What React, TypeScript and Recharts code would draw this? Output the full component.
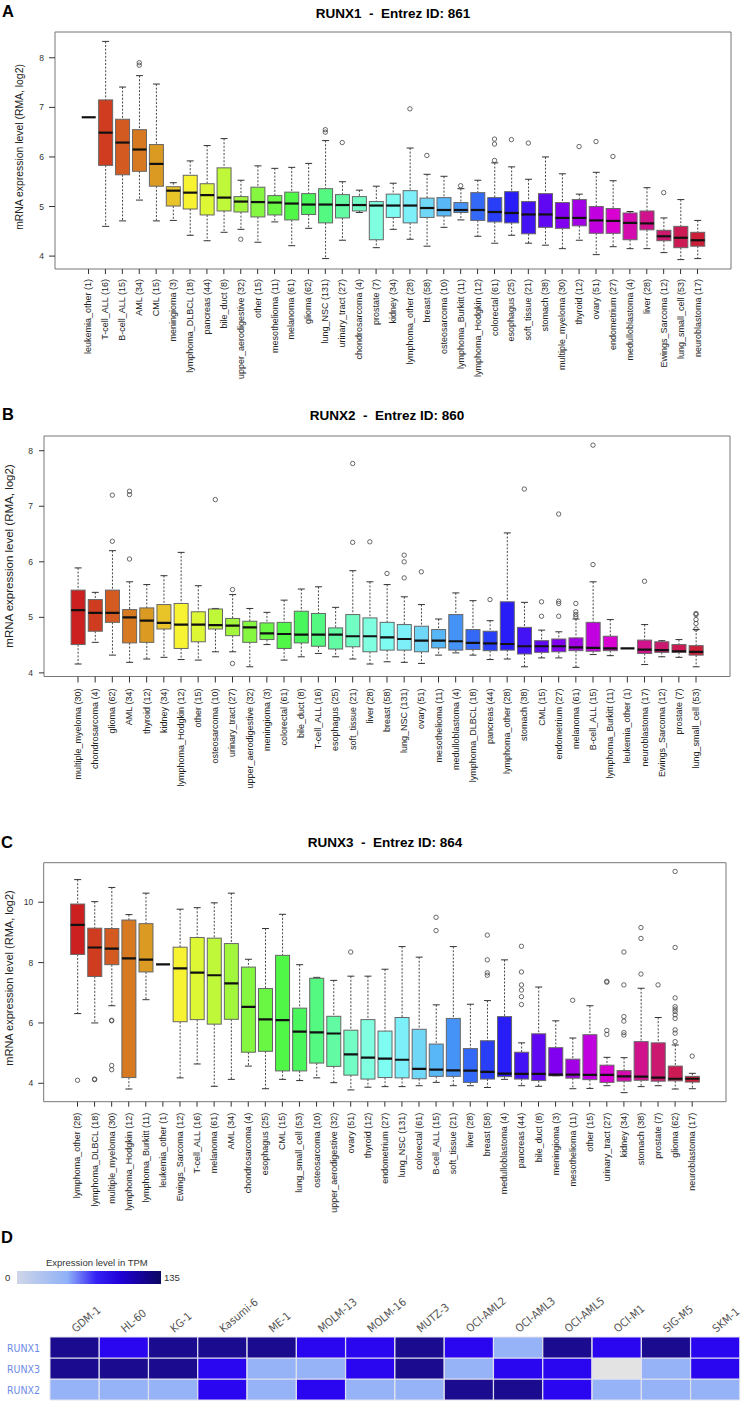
import React from "react";
import { ComposedChart, BarChart, Bar, Scatter, XAxis, YAxis, ReferenceArea, Cell } from "recharts";

const FONT = "'Liberation Sans', Arial, Helvetica, sans-serif";
const NARROW = "'Liberation Sans Narrow', 'DejaVu Sans Condensed', 'Liberation Sans', sans-serif";

// ---------------- Panel A : RUNX1 ----------------
const A_cats = ["leukemia_other (1)", "T-cell_ALL (16)", "B-cell_ALL (15)", "AML (34)", "CML (15)", "meningioma (3)", "lymphoma_DLBCL (18)", "pancreas (44)", "bile_duct (8)", "upper_aerodigestive (32)", "other (15)", "mesothelioma (11)", "melanoma (61)", "glioma (62)", "lung_NSC (131)", "urinary_tract (27)", "chondrosarcoma (4)", "prostate (7)", "kidney (34)", "lymphoma_other (28)", "breast (58)", "osteosarcoma (10)", "lymphoma_Burkitt (11)", "lymphoma_Hodgkin (12)", "colorectal (61)", "esophagus (25)", "soft_tissue (21)", "stomach (38)", "multiple_myeloma (30)", "thyroid (12)", "ovary (51)", "endometrium (27)", "medulloblastoma (4)", "liver (28)", "Ewings_Sarcoma (12)", "lung_small_cell (53)", "neuroblastoma (17)"];
const A_hi = [6.80, 8.33, 7.41, 7.64, 7.47, 5.48, 5.92, 6.23, 6.37, 5.53, 5.82, 5.77, 5.79, 5.87, 6.33, 5.50, 5.33, 5.41, 5.47, 6.18, 5.65, 5.61, 5.36, 5.53, 5.88, 5.80, 5.55, 6.00, 5.66, 5.25, 5.69, 5.52, 4.90, 5.38, 4.77, 5.14, 4.72];
const A_q3 = [6.80, 7.15, 6.76, 6.55, 6.25, 5.40, 5.63, 5.46, 5.78, 5.20, 5.39, 5.22, 5.29, 5.26, 5.36, 5.24, 5.20, 5.10, 5.25, 5.32, 5.17, 5.18, 5.08, 5.28, 5.18, 5.30, 5.10, 5.26, 5.08, 5.14, 5.00, 4.96, 4.87, 4.91, 4.52, 4.60, 4.48];
const A_med = [6.80, 6.49, 6.29, 6.15, 5.86, 5.32, 5.28, 5.23, 5.18, 5.10, 5.09, 5.08, 5.06, 5.04, 5.04, 5.03, 5.03, 5.02, 5.02, 5.02, 4.97, 4.93, 4.93, 4.93, 4.89, 4.87, 4.84, 4.84, 4.77, 4.77, 4.72, 4.71, 4.67, 4.66, 4.40, 4.37, 4.32];
const A_q1 = [6.80, 5.83, 5.64, 5.71, 5.41, 5.01, 4.95, 4.83, 4.91, 4.89, 4.79, 4.83, 4.73, 4.84, 4.67, 4.77, 4.91, 4.33, 4.78, 4.67, 4.78, 4.81, 4.88, 4.72, 4.69, 4.67, 4.45, 4.58, 4.56, 4.61, 4.46, 4.46, 4.33, 4.53, 4.31, 4.17, 4.20];
const A_lo = [6.80, 4.60, 4.71, 5.13, 4.71, 4.72, 4.42, 4.31, 4.48, 4.54, 4.28, 4.69, 4.21, 4.56, 3.95, 4.32, 4.88, 4.17, 4.54, 4.34, 4.20, 4.58, 4.73, 4.40, 4.26, 4.42, 4.26, 4.22, 4.15, 4.32, 4.03, 4.19, 4.15, 4.15, 4.07, 3.93, 3.95];
const A_out: number[][] = [[], [], [], [7.90, 7.85], [], [], [], [], [], [4.34], [], [], [], [], [6.55, 6.50], [6.29], [], [], [], [6.97], [6.03], [], [5.42], [], [6.36, 6.26, 5.93], [6.35], [6.28], [], [], [6.21], [6.31], [6.01], [], [], [5.28], [], []];
const A_yTicks = [4, 5, 6, 7, 8];

// ---------------- Panel B : RUNX2 ----------------
const B_cats = ["multiple_myeloma (30)", "chondrosarcoma (4)", "glioma (62)", "AML (34)", "thyroid (12)", "kidney (34)", "lymphoma_Hodgkin (12)", "other (15)", "osteosarcoma (10)", "urinary_tract (27)", "upper_aerodigestive (32)", "meningioma (3)", "colorectal (61)", "bile_duct (8)", "T-cell_ALL (16)", "esophagus (25)", "soft_tissue (21)", "liver (28)", "breast (58)", "lung_NSC (131)", "ovary (51)", "mesothelioma (11)", "medulloblastoma (4)", "lymphoma_DLBCL (18)", "pancreas (44)", "lymphoma_other (28)", "stomach (38)", "CML (15)", "endometrium (27)", "melanoma (61)", "B-cell_ALL (15)", "lymphoma_Burkitt (11)", "leukemia_other (1)", "neuroblastoma (17)", "Ewings_Sarcoma (12)", "prostate (7)", "lung_small_cell (53)"];
const B_hi = [5.89, 5.45, 6.20, 5.64, 5.59, 5.75, 6.17, 5.57, 5.16, 5.41, 5.16, 5.09, 5.31, 5.51, 5.55, 5.18, 5.84, 5.64, 5.59, 5.37, 5.23, 4.97, 5.44, 5.30, 4.94, 6.52, 5.27, 4.77, 4.74, 4.97, 5.64, 4.96, 4.44, 4.87, 4.58, 4.60, 4.78];
const B_q3 = [5.49, 5.32, 5.49, 5.14, 5.17, 5.23, 5.25, 5.10, 5.15, 4.98, 4.93, 4.90, 4.91, 5.11, 5.07, 4.81, 5.05, 4.99, 4.91, 4.87, 4.84, 4.78, 5.05, 4.78, 4.75, 5.28, 4.82, 4.58, 4.61, 4.63, 4.91, 4.66, 4.44, 4.59, 4.56, 4.51, 4.49];
const B_med = [5.13, 5.08, 5.08, 5.00, 4.94, 4.90, 4.87, 4.87, 4.86, 4.85, 4.82, 4.71, 4.70, 4.69, 4.69, 4.69, 4.66, 4.66, 4.64, 4.61, 4.58, 4.58, 4.57, 4.54, 4.53, 4.52, 4.48, 4.48, 4.48, 4.46, 4.45, 4.44, 4.44, 4.42, 4.41, 4.39, 4.38];
const B_q1 = [4.51, 4.75, 4.91, 4.54, 4.55, 4.79, 4.44, 4.56, 4.79, 4.67, 4.55, 4.60, 4.44, 4.54, 4.48, 4.43, 4.47, 4.38, 4.41, 4.41, 4.38, 4.45, 4.41, 4.42, 4.40, 4.41, 4.34, 4.37, 4.38, 4.40, 4.39, 4.40, 4.44, 4.35, 4.37, 4.37, 4.32];
const B_lo = [4.16, 4.55, 4.32, 4.19, 4.25, 4.28, 4.24, 4.23, 4.38, 4.38, 4.11, 4.51, 4.23, 4.29, 4.35, 4.29, 4.25, 4.16, 4.20, 4.19, 4.17, 4.32, 4.36, 4.32, 4.24, 4.25, 4.11, 4.27, 4.27, 4.10, 4.33, 4.31, 4.44, 4.15, 4.29, 4.28, 4.11];
const B_out: number[][] = [[], [], [7.20, 6.37], [7.27, 7.21, 6.05], [], [], [], [], [7.12], [5.50, 4.17], [], [], [], [], [], [], [7.77, 6.35], [6.36], [5.79], [6.12, 6.00, 5.71], [5.82], [], [], [], [5.32], [], [7.31], [5.28, 5.02], [6.86, 5.29, 5.25, 5.02], [5.25, 5.10, 5.05, 5.01], [8.10, 5.95], [], [], [5.65], [], [], [5.07, 5.05, 4.96, 4.89, 4.79]];
const B_yTicks = [4, 5, 6, 7, 8];

// ---------------- Panel C : RUNX3 ----------------
const C_cats = ["lymphoma_other (28)", "lymphoma_DLBCL (18)", "multiple_myeloma (30)", "lymphoma_Hodgkin (12)", "lymphoma_Burkitt (11)", "leukemia_other (1)", "Ewings_Sarcoma (12)", "T-cell_ALL (16)", "melanoma (61)", "AML (34)", "chondrosarcoma (4)", "esophagus (25)", "CML (15)", "lung_small_cell (53)", "osteosarcoma (10)", "upper_aerodigestive (32)", "ovary (51)", "thyroid (12)", "endometrium (27)", "lung_NSC (131)", "colorectal (61)", "B-cell_ALL (15)", "soft_tissue (21)", "liver (28)", "breast (58)", "medulloblastoma (4)", "pancreas (44)", "bile_duct (8)", "meningioma (3)", "mesothelioma (11)", "other (15)", "urinary_tract (27)", "kidney (34)", "stomach (38)", "prostate (7)", "glioma (62)", "neuroblastoma (17)"];
const C_hi = [10.75, 10.02, 10.49, 9.59, 10.30, 7.94, 9.77, 9.82, 9.98, 10.30, 8.11, 9.13, 9.60, 7.93, 7.51, 7.41, 7.55, 7.55, 7.78, 8.53, 8.18, 6.60, 8.53, 6.62, 6.74, 8.09, 5.34, 7.19, 6.07, 5.50, 6.57, 4.86, 4.85, 7.15, 6.18, 5.27, 4.33];
const C_q3 = [9.94, 9.14, 9.13, 9.41, 9.29, 7.94, 8.51, 8.83, 8.81, 8.63, 7.85, 7.14, 8.24, 6.49, 7.48, 6.22, 5.76, 6.11, 5.73, 6.18, 5.79, 5.30, 6.15, 5.15, 5.41, 6.21, 5.03, 5.64, 5.18, 4.80, 5.61, 4.60, 4.42, 5.38, 5.34, 4.57, 4.23];
const C_med = [9.25, 8.50, 8.46, 8.14, 8.10, 7.94, 7.81, 7.67, 7.58, 7.31, 6.53, 6.12, 6.09, 5.71, 5.69, 5.65, 4.96, 4.85, 4.82, 4.78, 4.48, 4.45, 4.43, 4.42, 4.38, 4.32, 4.31, 4.31, 4.29, 4.29, 4.28, 4.28, 4.23, 4.22, 4.19, 4.15, 4.15];
const C_q1 = [8.27, 7.54, 7.93, 4.19, 7.69, 7.94, 6.04, 6.11, 5.96, 6.12, 5.03, 5.06, 4.41, 4.41, 4.67, 4.56, 4.27, 4.14, 4.19, 4.18, 4.15, 4.23, 4.23, 4.03, 4.14, 4.22, 4.14, 4.09, 4.25, 4.17, 4.12, 4.03, 4.07, 4.10, 4.07, 4.08, 4.04];
const C_lo = [6.31, 6.00, 6.57, 3.81, 6.77, 7.94, 4.18, 4.64, 3.90, 4.13, 4.57, 3.82, 4.13, 4.09, 4.18, 4.02, 3.78, 3.87, 3.89, 3.89, 3.92, 4.03, 3.92, 3.92, 3.86, 4.13, 3.92, 3.90, 4.25, 3.82, 3.83, 3.92, 3.69, 3.89, 3.92, 3.81, 3.82];
const C_out: number[][] = [[4.10], [4.14, 4.12], [6.09, 6.07, 4.59, 4.45], [], [], [], [], [], [], [], [], [], [], [], [], [], [8.35], [], [], [], [], [9.50, 9.06], [], [], [8.91, 8.09, 7.66, 7.58], [], [8.54, 7.69, 7.26, 7.09, 6.87, 6.61], [], [], [6.75], [], [7.38, 7.35, 5.75, 5.62], [8.35, 7.26, 6.21, 6.06, 5.68, 5.60], [9.16, 8.80, 7.62], [7.26], [11.02, 8.50, 6.83, 6.54, 6.46, 6.38, 6.27, 6.15, 5.77, 5.66, 5.38], [4.90]];
const C_yTicks = [4, 6, 8, 10];

// ---------------- Panel D : heatmap ----------------
const HM_cells = ["GDM-1", "HL-60", "KG-1", "Kasumi-6", "ME-1", "MOLM-13", "MOLM-16", "MUTZ-3", "OCI-AML2", "OCI-AML3", "OCI-AML5", "OCI-M1", "SIG-M5", "SKM-1"];
const HM_genes = ["RUNX1", "RUNX3", "RUNX2"];
const HM_RUNX1: (number | null)[] = [118, 68, 121, 112, 125, 74, 66, 119, 71, 14, 116, 72, 123, 69];
const HM_RUNX3: (number | null)[] = [127, 114, 120, 63, 11, 9, 67, 117, 13, 75, 61, null, 16, 70];
const HM_RUNX2: (number | null)[] = [8, 10, 12, 66, 7, 73, 15, 11, 122, 118, 64, 9, 6, 13];
const HM_max = 135;

// ---------------- styling helpers ----------------
const SV_KEYS: number[][] = [
  [0, 0.85, 0.8], [40, 0.85, 0.86], [58, 0.8, 0.97], [90, 0.75, 0.97], [130, 0.7, 0.97],
  [165, 0.5, 1.0], [190, 0.5, 0.97], [205, 0.65, 0.97], [225, 0.8, 0.97], [240, 0.87, 0.97],
  [270, 1.0, 0.95], [300, 1.0, 0.85], [330, 0.88, 0.8], [360, 0.85, 0.8],
];
function hsvHex(h: number, s: number, v: number) {
  const c = v * s;
  const hp = (h % 360) / 60;
  const x = c * (1 - Math.abs((hp % 2) - 1));
  let r = 0, g = 0, b = 0;
  if (hp < 1) { r = c; g = x; } else if (hp < 2) { r = x; g = c; } else if (hp < 3) { g = c; b = x; }
  else if (hp < 4) { g = x; b = c; } else if (hp < 5) { r = x; b = c; } else { r = c; b = x; }
  const m = v - c;
  const hx = (u: number) => Math.round((u + m) * 255).toString(16).padStart(2, "0");
  return "#" + hx(r) + hx(g) + hx(b);
}
function boxColor(i: number, n: number) {
  const h = (i / n) * 360;
  let k = 0;
  while (k < SV_KEYS.length - 2 && SV_KEYS[k + 1][0] < h) k++;
  const [h0, s0, v0] = SV_KEYS[k];
  const [h1, s1, v1] = SV_KEYS[k + 1];
  const t = Math.max(0, Math.min(1, (h - h0) / (h1 - h0)));
  return hsvHex(h, s0 + (s1 - s0) * t, v0 + (v1 - v0) * t);
}
function tpmColor(v: number | null) {
  if (v == null) return "#e3e3e3";
  const f = v / HM_max;
  if (f >= 0.75) return "#1b0b8e";
  if (f >= 0.35) return "#2a05f0";
  return "#95b3f6";
}

const BoxShape = (props: any) => {
  const { x, y, width, height, payload, color } = props;
  if (x == null || y == null || !payload) return null;
  const cx = x + width / 2;
  const yTop = Math.min(y, y + height);
  const yBot = Math.max(y, y + height);
  const span = payload.hi - payload.lo;
  const k = span > 0 ? (yBot - yTop) / span : 0;
  const py = (v: number) => yTop + (payload.hi - v) * k;
  const yHi = py(payload.hi), yQ3 = py(payload.q3), yMed = py(payload.med), yQ1 = py(payload.q1), yLo = py(payload.lo);
  const cap = width / 4;
  const single = span === 0;
  return (
    <g>
      {!single && (
        <g>
          <line x1={cx} x2={cx} y1={yHi} y2={yQ3} stroke="#333" strokeWidth={0.9} strokeDasharray="2 1.6" />
          <line x1={cx} x2={cx} y1={yQ1} y2={yLo} stroke="#333" strokeWidth={0.9} strokeDasharray="2 1.6" />
          <line x1={cx - cap} x2={cx + cap} y1={yHi} y2={yHi} stroke="#333" strokeWidth={1} />
          <line x1={cx - cap} x2={cx + cap} y1={yLo} y2={yLo} stroke="#333" strokeWidth={1} />
          <rect x={x} y={yQ3} width={width} height={Math.max(0, yQ1 - yQ3)} fill={color} stroke="#666" strokeWidth={1} />
        </g>
      )}
      <line x1={x} x2={x + width} y1={yMed} y2={yMed} stroke="#111" strokeWidth={2.2} />
    </g>
  );
};

const OutlierShape = (props: any) => {
  if (props.cx == null || props.cy == null) return null;
  return <circle cx={props.cx} cy={props.cy} r={2.2} fill="none" stroke="#444" strokeWidth={0.8} />;
};

const XTick = (props: any) => {
  const { x, y, payload, labels, fontSize } = props;
  const label = labels[Math.round(payload.value) - 1];
  return (
    <text x={x} y={y} transform={`rotate(-90 ${x} ${y})`} textAnchor="end" dominantBaseline="central"
      fontSize={fontSize} fontFamily={FONT} fill="#222">{label}</text>
  );
};

type PanelProps = {
  top: number; height: number; box: { l: number; r: number; t: number; b: number };
  cats: string[]; lo: number[]; q1: number[]; med: number[]; q3: number[]; hi: number[]; out: number[][];
  yDomain: [number, number]; yTicks: number[]; yTickSize: number; yTickMargin: number;
  xTickSize: number; xTickMargin: number; xFont: number;
};

function BoxPanel(p: PanelProps) {
  const n = p.cats.length;
  const rows = p.cats.map((c, i) => ({ x: i + 1, name: c, lo: p.lo[i], q1: p.q1[i], med: p.med[i], q3: p.q3[i], hi: p.hi[i] }));
  const pts = p.out.flatMap((arr, i) => arr.map((v) => ({ x: i + 1, y: v })));
  const xDomain: [number, number] = [0.5 - 0.04 * n, n + 0.5 + 0.04 * n];
  const ticks = p.cats.map((_, i) => i + 1);
  const colors = p.cats.map((_, i) => boxColor(i, n));
  return (
    <div style={{ position: "absolute", left: 0, top: p.top, width: 744, height: p.height }}>
      <ComposedChart width={744} height={p.height} data={rows}
        margin={{ top: p.box.t - p.top, right: 744 - p.box.r, bottom: 0, left: 0 }}>
        <XAxis type="number" dataKey="x" domain={xDomain} ticks={ticks} interval={0} allowDataOverflow
          axisLine={false} tickLine={{ stroke: "#333" }} tickSize={p.xTickSize} tickMargin={p.xTickMargin}
          height={p.top + p.height - p.box.b} tick={<XTick labels={p.cats} fontSize={p.xFont} />} />
        <YAxis type="number" domain={p.yDomain} ticks={p.yTicks} interval={0} allowDataOverflow axisLine={false}
          tickLine={{ stroke: "#333" }} tickSize={p.yTickSize} tickMargin={p.yTickMargin} width={p.box.l}
          tick={{ fontSize: 8.5, fill: "#333", fontFamily: FONT }} />
        <ReferenceArea x1={xDomain[0]} x2={xDomain[1]} y1={p.yDomain[0]} y2={p.yDomain[1]}
          fill="none" fillOpacity={0} stroke="#777" strokeWidth={1} ifOverflow="visible" />
        <Bar dataKey={(d: any) => [d.lo, d.hi]} isAnimationActive={false}
          shape={(sp: any) => <BoxShape {...sp} color={colors[(sp.payload?.x ?? 1) - 1]} />} />
        <Scatter data={pts} dataKey="y" isAnimationActive={false} shape={OutlierShape} />
      </ComposedChart>
    </div>
  );
}

const HmXTick = (props: any) => {
  const { x, y, payload } = props;
  const tx = x + 1;
  return (
    <text x={tx} y={y} transform={`rotate(-40 ${tx} ${y})`} textAnchor="start" fontSize={11}
      fontFamily={NARROW} fill="#555">{payload.value}</text>
  );
};
const HmYTick = (props: any) => {
  const { y, payload } = props;
  const idx = Math.floor(payload.value);
  const name = [HM_genes[2], HM_genes[1], HM_genes[0]][idx];
  return (
    <text x={7} y={y} dominantBaseline="central" textAnchor="start" fontSize={10.5} fontFamily={NARROW} fill="#6b8be8">{name}</text>
  );
};

function Heatmap() {
  const data = HM_cells.map((c, i) => ({ cell: c, RUNX1: HM_RUNX1[i], RUNX3: HM_RUNX3[i], RUNX2: HM_RUNX2[i] }));
  const stackOrder = ["RUNX2", "RUNX3", "RUNX1"];
  return (
    <div style={{ position: "absolute", left: 0, top: 1290, width: 744, height: 112 }}>
      <BarChart width={744} height={112} data={data} barCategoryGap={0} barGap={0}
        margin={{ top: 0, right: 4, bottom: 2, left: 0 }}>
        <XAxis dataKey="cell" orientation="top" height={47} interval={0} axisLine={false} tickLine={false}
          tickSize={0} tickMargin={4} tick={<HmXTick />} />
        <YAxis type="number" domain={[0, 3]} ticks={[0.5, 1.5, 2.5]} interval={0} width={50} axisLine={false} tickLine={false}
          tick={<HmYTick />} />
        {stackOrder.map((g) => (
          <Bar key={g} stackId="hm" dataKey={(d: any) => (d ? 1 : 0)} isAnimationActive={false}
            stroke="#e2e2ee" strokeWidth={1}>
            {data.map((d: any, i) => <Cell key={i} fill={tpmColor(d[g])} />)}
          </Bar>
        ))}
      </BarChart>
    </div>
  );
}

function Overlay() {
  const t = { fontFamily: FONT, fontWeight: 700 as const, fill: "#000" };
  const pre = { whiteSpace: "pre" as const };
  const yl = (x: number, y: number, fs: number) => (
    <text x={x} y={y} transform={`rotate(-90 ${x} ${y})`} textAnchor="middle" dominantBaseline="central"
      fontFamily={FONT} fontSize={fs} fill="#222">mRNA expression level (RMA, log2)</text>
  );
  return (
    <svg width={744} height={1402} style={{ position: "absolute", left: 0, top: 0, pointerEvents: "none" }}>
      <defs>
        <linearGradient id="tpmGrad" x1="0" x2="1" y1="0" y2="0">
          <stop offset="0%" stopColor="#cfd6e8" />
          <stop offset="35%" stopColor="#8fb1f7" />
          <stop offset="55%" stopColor="#3522f5" />
          <stop offset="72%" stopColor="#2000d6" />
          <stop offset="100%" stopColor="#0c0660" />
        </linearGradient>
      </defs>
      <text x={2} y={16.5} fontSize={16.5} {...t}>A</text>
      <text x={393} y={17.5} fontSize={13.5} textAnchor="middle" style={pre} {...t}>{"RUNX1  -  Entrez ID: 861"}</text>
      {yl(19, 147, 10.4)}

      <text x={2} y={420} fontSize={16.5} {...t}>B</text>
      <text x={387} y={420} fontSize={13.5} textAnchor="middle" style={pre} {...t}>{"RUNX2  -  Entrez ID: 860"}</text>
      {yl(9, 556, 11.5)}

      <text x={1} y={847.5} fontSize={16.5} {...t}>C</text>
      <text x={385} y={846.5} fontSize={13.5} textAnchor="middle" style={pre} {...t}>{"RUNX3  -  Entrez ID: 864"}</text>
      {yl(9, 978, 11)}

      <text x={1} y={1243} fontSize={16.5} {...t}>D</text>
      <text x={46} y={1266} fontSize={9.5} fontFamily={FONT} fill="#333">Expression level in TPM</text>
      <rect x={17} y={1271} width={144} height={13} fill="url(#tpmGrad)" />
      <text x={5} y={1281} fontSize={9.5} fontFamily={FONT} fill="#333">0</text>
      <text x={164} y={1281} fontSize={9.5} fontFamily={FONT} fill="#333">135</text>
    </svg>
  );
}

export default function App() {
  return (
    <div style={{ position: "absolute", left: 0, top: 0, width: 744, height: 1402, background: "#fff", overflow: "hidden" }}>
      <BoxPanel top={0} height={395} box={{ l: 55, r: 731, t: 32, b: 269 }}
        cats={A_cats} lo={A_lo} q1={A_q1} med={A_med} q3={A_q3} hi={A_hi} out={A_out}
        yDomain={[3.74, 8.52]} yTicks={A_yTicks} yTickSize={6} yTickMargin={5}
        xTickSize={5} xTickMargin={5} xFont={9} />
      <BoxPanel top={400} height={405} box={{ l: 44, r: 730, t: 436, b: 676.5 }}
        cats={B_cats} lo={B_lo} q1={B_q1} med={B_med} q3={B_q3} hi={B_hi} out={B_out}
        yDomain={[3.935, 8.265]} yTicks={B_yTicks} yTickSize={5} yTickMargin={6}
        xTickSize={6} xTickMargin={6} xFont={9} />
      <BoxPanel top={820} height={400} box={{ l: 43.7, r: 726, t: 862.7, b: 1101.7 }}
        cats={C_cats} lo={C_lo} q1={C_q1} med={C_med} q3={C_q3} hi={C_hi} out={C_out}
        yDomain={[3.39, 11.31]} yTicks={C_yTicks} yTickSize={5.5} yTickMargin={5}
        xTickSize={5} xTickMargin={6} xFont={9} />
      <Heatmap />
      <Overlay />
    </div>
  );
}
